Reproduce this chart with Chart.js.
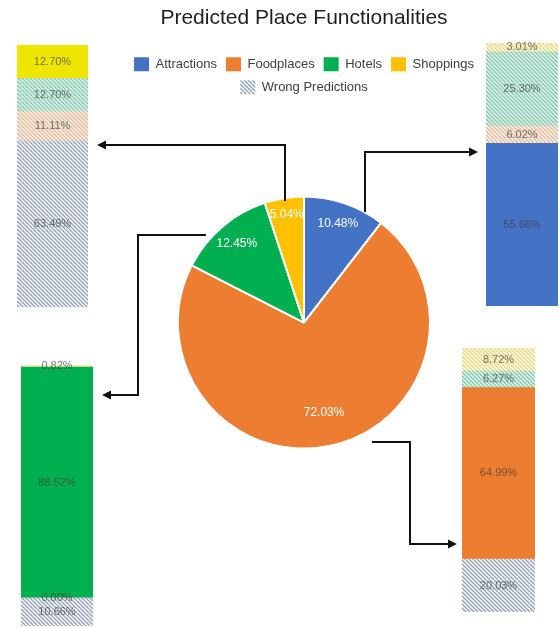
<!DOCTYPE html>
<html>
<head>
<meta charset="utf-8">
<title>Predicted Place Functionalities</title>
<script src="https://cdn.jsdelivr.net/npm/chart.js@4.4.1/dist/chart.umd.min.js"></script>
<style>
  body { margin: 0; background: #fff; }
  #board { position: relative; width: 559px; height: 628px; overflow: hidden; }
  #board canvas { position: absolute; }
</style>
</head>
<body>
<div id="board">
  <canvas id="pieChart" width="559" height="628" style="left:0;top:0"></canvas>
  <canvas id="shoppingsBar" width="71" height="278" style="left:17px;top:37px"></canvas>
  <canvas id="attractionsBar" width="72" height="279" style="left:486px;top:35px"></canvas>
  <canvas id="hotelsBar" width="72" height="277" style="left:21px;top:357px"></canvas>
  <canvas id="foodplacesBar" width="73" height="280" style="left:462px;top:340px"></canvas>
</div>
<script>
const categories = ["Attractions", "Foodplaces", "Hotels", "Shoppings"];
const predictedShares = [10.48, 72.03, 12.45, 5.04];

// breakdown of each predicted class, stacked bottom to top in category order
const attractionsSplit = [55.66, 6.02, 25.30, 3.01];
const foodplacesSplit = [20.03, 64.99, 6.27, 8.72];
const hotelsSplit = [10.66, 0.00, 88.52, 0.82];
const shoppingsSplit = [63.49, 11.11, 12.70, 12.70];

const pieColors = ["#4472c4", "#ed7d31", "#00b050", "#ffc000"];
const solidColors = ["#4472c4", "#ed7d31", "#00b050", "#eee600"];
const hatchInks = [
  ["#939fb4", "#f6f7f9"],
  ["#dfbb9c", "#fbefe5"],
  ["#7fc6ad", "#e2f3ec"],
  ["#e6da86", "#fcf8de"],
];

const sansFamily = "'Liberation Sans', Arial, sans-serif";

// diagonal "\" stripes used for the wrong-prediction segments
function hatch(ink, paper) {
  const tile = document.createElement("canvas");
  tile.width = tile.height = 4;
  const c = tile.getContext("2d");
  c.fillStyle = paper;
  c.fillRect(0, 0, 4, 4);
  c.strokeStyle = ink;
  c.lineWidth = 1.3;
  c.beginPath();
  for (let k = -1; k <= 1; k++) {
    c.moveTo(k * 4, 0);
    c.lineTo(k * 4 + 4, 4);
  }
  c.stroke();
  return c.createPattern(tile, "repeat");
}

const hatchFills = hatchInks.map(([ink, paper]) => hatch(ink, paper));

// percentages written inside the pie slices
const sliceLabelReach = [0.83, 0.73, 0.82, 0.87];
const pieLabels = {
  id: "pieLabels",
  afterDatasetsDraw(chart) {
    const { ctx } = chart;
    ctx.save();
    ctx.font = "12px " + sansFamily;
    ctx.fillStyle = "#ffffff";
    ctx.textAlign = "center";
    ctx.textBaseline = "middle";
    chart.getDatasetMeta(0).data.forEach((arc, i) => {
      const { x, y, startAngle, endAngle, outerRadius } = arc.getProps(
        ["x", "y", "startAngle", "endAngle", "outerRadius"], true);
      const mid = (startAngle + endAngle) / 2;
      const r = outerRadius * sliceLabelReach[i];
      ctx.fillText(predictedShares[i].toFixed(2) + "%", x + Math.cos(mid) * r, y + Math.sin(mid) * r);
    });
    ctx.restore();
  },
};

// elbow arrows from the slices out to their breakdown bars
const arrowPaths = [
  [[285, 201], [285, 145], [97, 145]],
  [[365, 212], [365, 152], [478, 152]],
  [[206, 235], [138, 235], [138, 395], [102, 395]],
  [[372, 442], [410, 442], [410, 544], [457, 544]],
];
const connectors = {
  id: "connectors",
  afterDraw(chart) {
    const { ctx } = chart;
    ctx.save();
    ctx.strokeStyle = "#111";
    ctx.fillStyle = "#111";
    ctx.lineWidth = 2;
    arrowPaths.forEach((path) => {
      const [tx, ty] = path[path.length - 1];
      const [px, py] = path[path.length - 2];
      const len = Math.hypot(tx - px, ty - py);
      const ux = (tx - px) / len;
      const uy = (ty - py) / len;
      ctx.beginPath();
      ctx.moveTo(path[0][0], path[0][1]);
      for (let i = 1; i < path.length - 1; i++) ctx.lineTo(path[i][0], path[i][1]);
      ctx.lineTo(tx - ux * 6, ty - uy * 6);
      ctx.stroke();
      ctx.beginPath();
      ctx.moveTo(tx, ty);
      ctx.lineTo(tx - ux * 9 - uy * 4.5, ty - uy * 9 + ux * 4.5);
      ctx.lineTo(tx - ux * 9 + uy * 4.5, ty - uy * 9 - ux * 4.5);
      ctx.closePath();
      ctx.fill();
    });
    ctx.restore();
  },
};

new Chart(document.getElementById("pieChart"), {
  type: "pie",
  data: {
    labels: categories,
    datasets: [
      {
        data: predictedShares,
        backgroundColor: pieColors,
        borderColor: "#ffffff",
        borderWidth: 2,
        radius: 126,
      },
    ],
  },
  options: {
    responsive: false,
    animation: false,
    layout: { padding: { top: 2, left: 89, right: 40, bottom: 87 } },
    plugins: {
      title: {
        display: true,
        text: "Predicted Place Functionalities",
        color: "#1e1e1e",
        font: { family: sansFamily, size: 21, weight: "normal" },
        padding: { top: 4, bottom: 17 },
      },
      legend: {
        position: "top",
        labels: {
          boxWidth: 15,
          boxHeight: 14,
          padding: 9,
          color: "#404040",
          font: { family: sansFamily, size: 13 },
          generateLabels() {
            const items = categories.map((name, i) => ({
              text: name,
              fillStyle: pieColors[i],
              strokeStyle: pieColors[i],
              lineWidth: 0,
              fontColor: "#404040",
              index: i,
            }));
            items.push({
              text: "Wrong Predictions",
              fillStyle: hatchFills[0],
              strokeStyle: "transparent",
              lineWidth: 0,
              fontColor: "#404040",
            });
            return items;
          },
        },
      },
      tooltip: { enabled: false },
    },
  },
  plugins: [pieLabels, connectors],
});

// value labels centred on each stacked segment
const segmentLabels = {
  id: "segmentLabels",
  afterDatasetsDraw(chart) {
    const { ctx } = chart;
    ctx.save();
    ctx.font = "11px " + sansFamily;
    ctx.fillStyle = "rgba(60, 60, 60, 0.7)";
    ctx.textAlign = "center";
    ctx.textBaseline = "middle";
    chart.data.datasets.forEach((ds, i) => {
      const bar = chart.getDatasetMeta(i).data[0];
      ctx.fillText(ds.data[0].toFixed(2) + "%", bar.x, (bar.y + bar.base) / 2);
    });
    ctx.restore();
  },
};

function splitBar(canvasId, split, own) {
  const total = split.reduce((a, b) => a + b, 0);
  new Chart(document.getElementById(canvasId), {
    type: "bar",
    data: {
      labels: [categories[own]],
      datasets: categories.map((name, i) => ({
        label: name,
        data: [split[i]],
        backgroundColor: i === own ? solidColors[i] : hatchFills[i],
        borderWidth: 0,
        barPercentage: 1,
        categoryPercentage: 1,
      })),
    },
    options: {
      responsive: false,
      animation: false,
      layout: { padding: { top: 8, bottom: 8 } },
      plugins: { legend: { display: false }, tooltip: { enabled: false } },
      scales: {
        x: { stacked: true, display: false },
        y: { stacked: true, display: false, min: 0, max: total },
      },
    },
    plugins: [segmentLabels],
  });
}

splitBar("attractionsBar", attractionsSplit, 0);
splitBar("foodplacesBar", foodplacesSplit, 1);
splitBar("hotelsBar", hotelsSplit, 2);
splitBar("shoppingsBar", shoppingsSplit, 3);
</script>
</body>
</html>
